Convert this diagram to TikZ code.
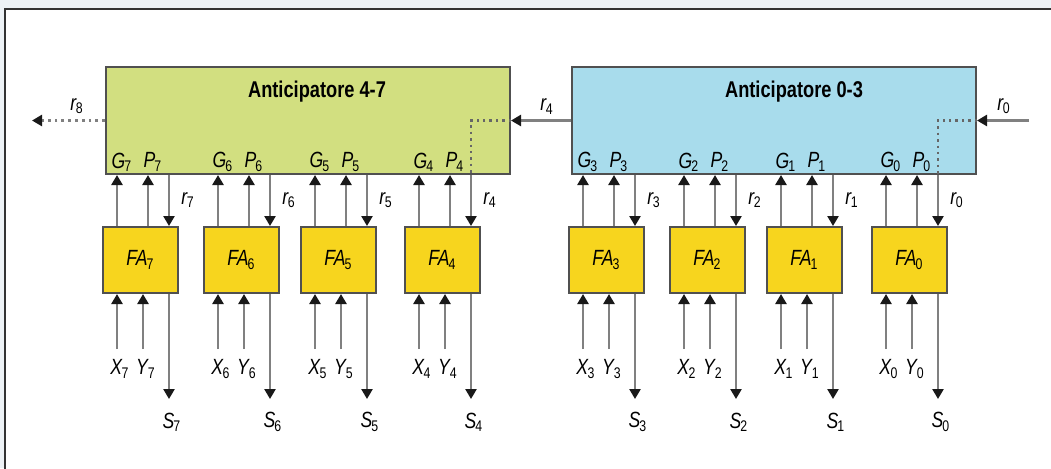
\documentclass[tikz,border=0pt]{standalone}
\usepackage{fontspec}
\setsansfont{Liberation Sans}[FakeStretch=0.80]
\usetikzlibrary{arrows.meta, calc}

\definecolor{antgreen}{HTML}{D2DF80}
\definecolor{antblue}{HTML}{A8DCEC}
\definecolor{fayellow}{HTML}{F7D51E}
\definecolor{boxgray}{HTML}{505050}
\definecolor{pagegray}{HTML}{EDF2F6}

\newcommand{\sig}[2]{\textit{#1}\kern-0.5pt\textsubscript{#2}}

\tikzset{
  lbl/.style={font=\sffamily\fontsize{11}{13}\selectfont, inner sep=0pt},
  antbox/.style={draw=boxgray, line width=1pt, minimum width=202pt, minimum height=53.5pt, inner sep=0pt, anchor=north west},
  fabox/.style={draw=boxgray, line width=1pt, fill=fayellow, minimum width=37.5pt, minimum height=33pt, inner sep=0pt, anchor=north west},
  wire/.style={draw=black!50, line width=1.4pt, -{Triangle[length=5pt,width=5.5pt,color=black!90]}},
  dots/.style={draw=black!60, line width=1.2pt, dotted}
}

\begin{document}
\begin{tikzpicture}[x=0.5pt, y=-0.5pt]

\useasboundingbox (0,0) rectangle (1051,468);
\fill[pagegray] (0,0) rectangle (1051,468);
\draw[fill=white, draw=black!80, line width=0.8pt] (5,9) rectangle (1080,500);

% anticipatori
\node[antbox, fill=antgreen] (ant47) at (105,66) {};
\node[antbox, fill=antblue] (ant03) at (571,66) {};
\node[lbl, font=\sffamily\bfseries\fontsize{11.4}{13}\selectfont] (t47) at ($(ant47.north)+(9,26)$) {Anticipatore 4-7};
\node[lbl, font=\sffamily\bfseries\fontsize{11.4}{13}\selectfont] (t03) at ($(ant03.north)+(20,26)$) {Anticipatore 0-3};

% full adder
\foreach \i/\l/\a in {7/102/ant47, 6/203/ant47, 5/300/ant47, 4/404/ant47,
                      3/568/ant03, 2/669/ant03, 1/766/ant03, 0/871/ant03} {
  \node[fabox] (fa\i) at (\l,226) {\sffamily\fontsize{11}{13}\selectfont\sig{FA}{\i}};
  \coordinate (g\i) at ($(fa\i.north west)+(15,0)$);
  \coordinate (p\i) at ($(fa\i.north west)+(46,0)$);
  \coordinate (r\i) at ($(fa\i.north west)+(67,0)$);
  \coordinate (x\i) at ($(fa\i.south west)+(15,55)$);
  \coordinate (y\i) at ($(fa\i.south west)+(41,55)$);
  \coordinate (s\i) at ($(fa\i.south west)+(67,105)$);
  \draw[wire] (g\i) -- (g\i |- \a.south);
  \draw[wire] (p\i) -- (p\i |- \a.south);
  \draw[wire] (r\i |- \a.south) -- (r\i);
  \draw[wire] (x\i) -- (x\i |- fa\i.south);
  \draw[wire] (y\i) -- (y\i |- fa\i.south);
  \draw[wire] (r\i |- fa\i.south) -- (s\i);
  \node[lbl] (gl\i) at ($(g\i |- \a.south)+(5,-13)$) {\sig{G}{\i}};
  \node[lbl] (pl\i) at ($(p\i |- \a.south)+(5,-13)$) {\sig{P}{\i}};
  \node[lbl] (rl\i) at ($(r\i)+(19,-26)$) {\sig{r}{\i}};
  \node[lbl] (xl\i) at ($(x\i)+(3,20)$) {\sig{X}{\i}};
  \node[lbl] (yl\i) at ($(y\i)+(3,20)$) {\sig{Y}{\i}};
  \node[lbl] (sl\i) at ($(s\i)+(3,23)$) {\sig{S}{\i}};
}

% riporti
\coordinate (r8end) at ($(ant47.west)+(-73,0)$);
\coordinate (r0in) at ($(ant03.east)+(52,0)$);
\draw[wire, dotted, line width=1.7pt] (ant47.west) -- (r8end);
\draw[wire] (ant03.west) -- (ant47.east);
\draw[wire] (r0in) -- (ant03.east);
\draw[dots] (ant47.east) -| (r4 |- ant47.south);
\draw[dots] (ant03.east) -| (r0 |- ant03.south);
\node[lbl] (rl8) at ($(ant47.west)+(-28,-14)$) {\sig{r}{8}};
\node[lbl] (rl4in) at ($(ant03.west)+(-24,-14)$) {\sig{r}{4}};
\node[lbl] (rl0in) at ($(ant03.east)+(27,-14)$) {\sig{r}{0}};

\end{tikzpicture}
\end{document}
